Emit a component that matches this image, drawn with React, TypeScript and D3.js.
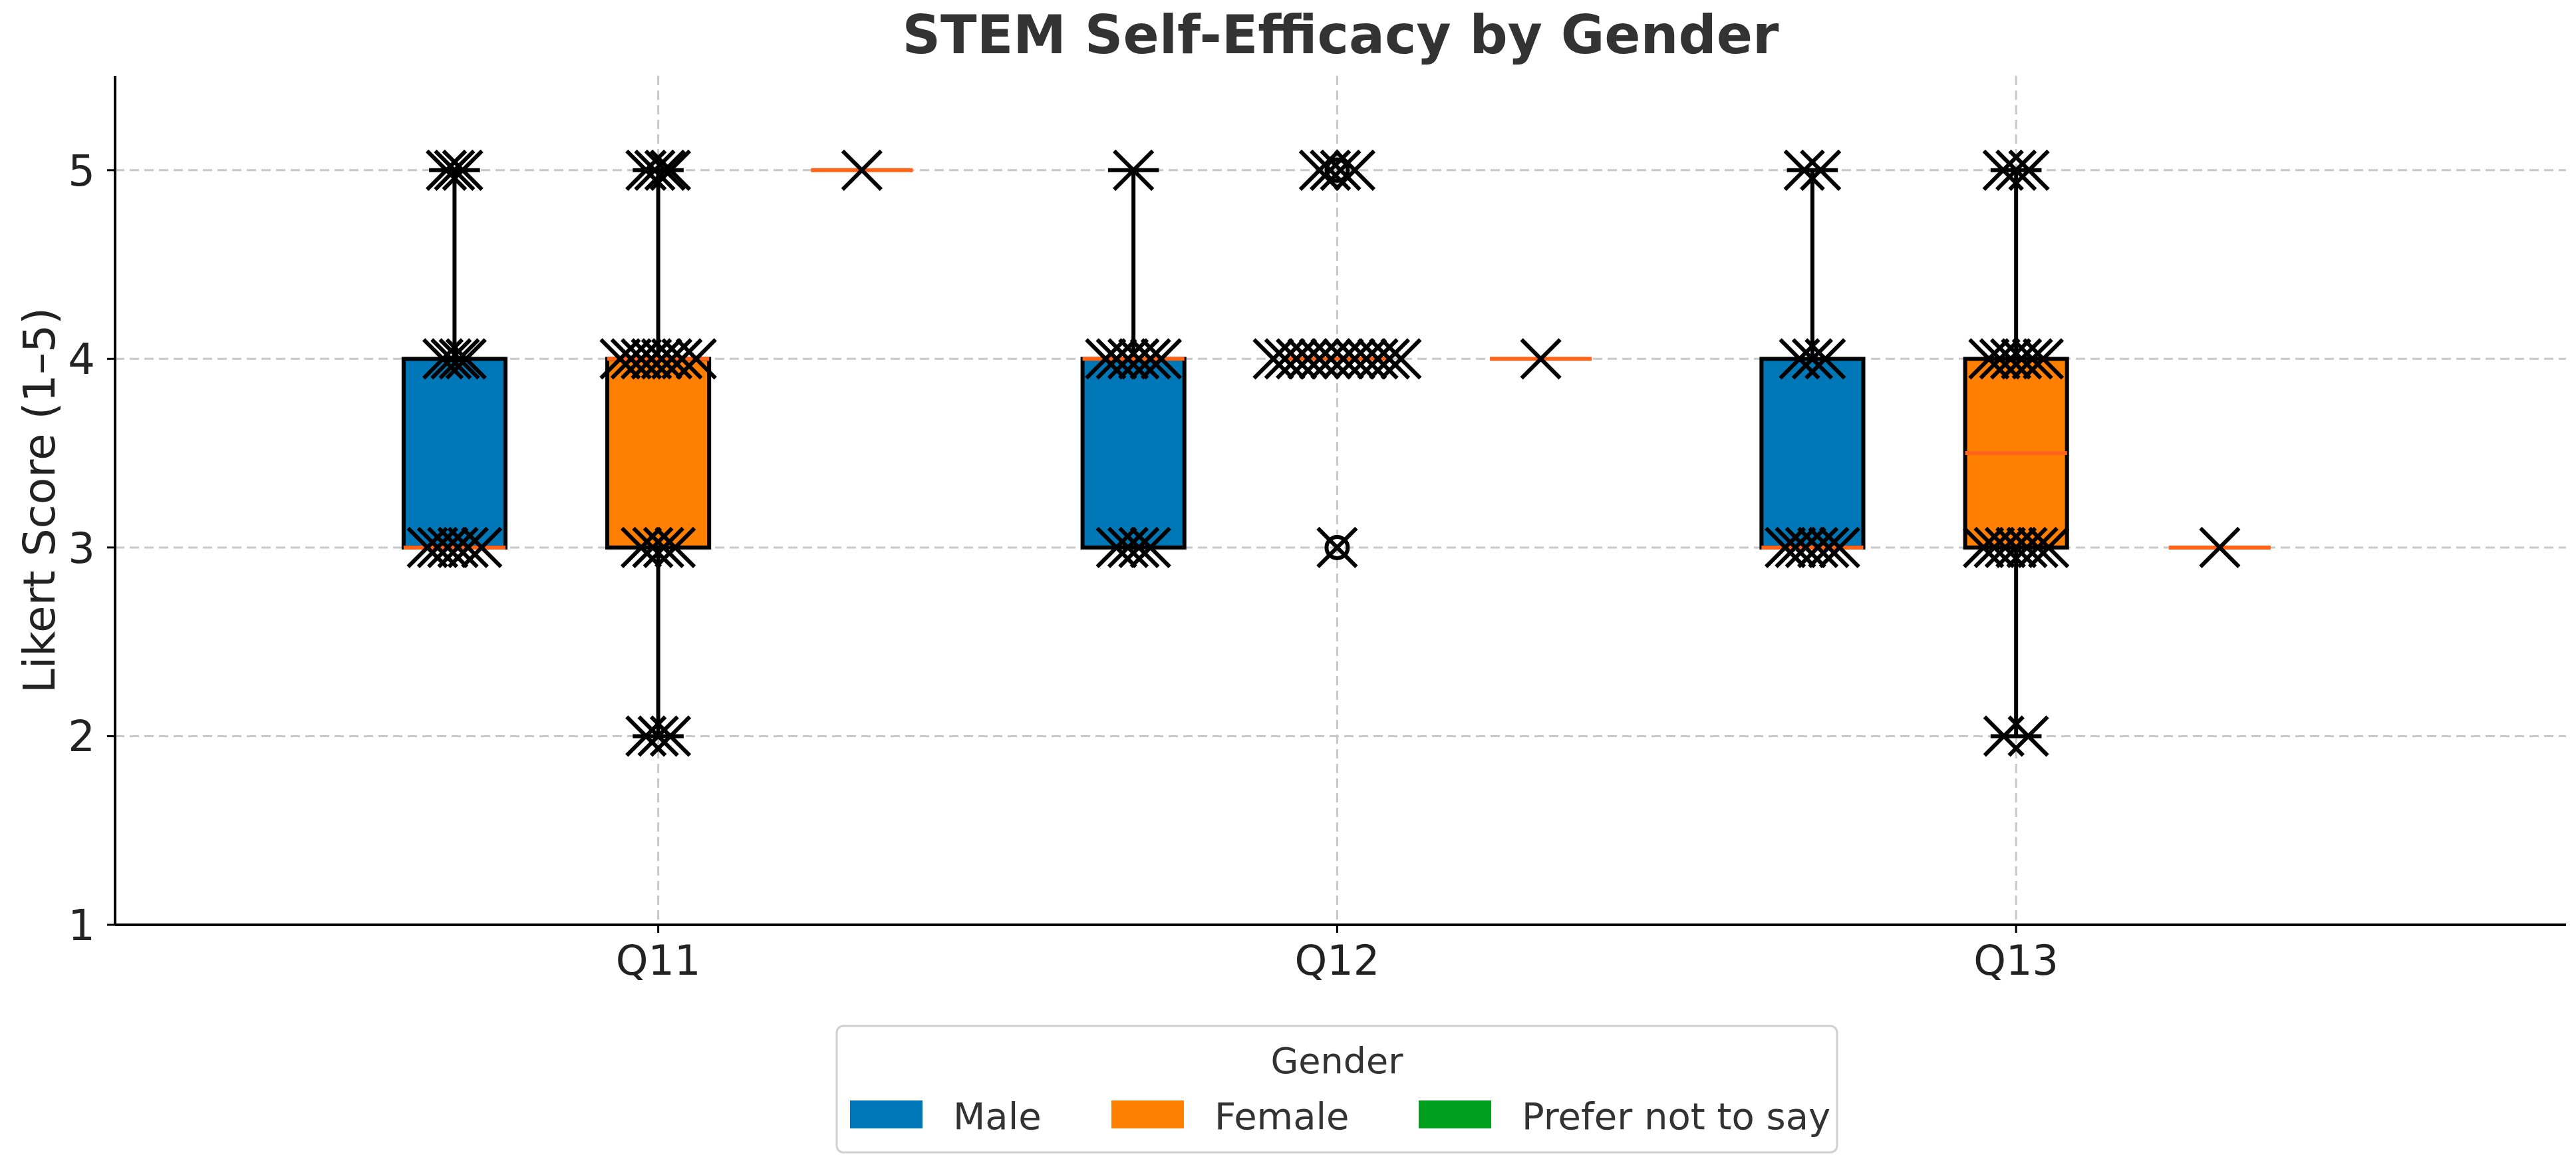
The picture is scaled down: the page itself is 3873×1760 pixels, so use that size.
import React from "react";
import * as d3 from "d3";

const questions = ["Q11", "Q12", "Q13"];
const genders = ["Male", "Female", "Prefer not to say"];
const colors = ["#0077b6", "#ff7f00", "#00a01e"];
const medianColor = "#ff6419";
const yTicks = [1, 2, 3, 4, 5];

// box stats per question x gender: [whiskerLow, q1, median, q3, whiskerHigh]
const q11Stats = [[3, 3, 3, 4, 5], [2, 3, 4, 4, 5], [5, 5, 5, 5, 5]];
const q12Stats = [[3, 3, 4, 4, 5], [4, 4, 4, 4, 4], [4, 4, 4, 4, 4]];
const q13Stats = [[3, 3, 3, 4, 5], [2, 3, 3.5, 4, 5], [3, 3, 3, 3, 3]];
const stats = [q11Stats, q12Stats, q13Stats];

// jittered raw responses: [value, horizontal offset (x units)]
const q11Points = [
  [[5, -0.012], [5, 0], [5, 0.012], [4, -0.017], [4, -0.005], [4, 0.007], [4, 0.017], [3, -0.04], [3, -0.025], [3, -0.01], [3, 0.005], [3, 0.02], [3, 0.04]],
  [[5, -0.018], [5, -0.005], [5, 0.01], [5, 0.018], [4, -0.056], [4, -0.04], [4, -0.025], [4, -0.01], [4, 0.005], [4, 0.02], [4, 0.035], [4, 0.056], [3, -0.025], [3, -0.008], [3, 0.008], [3, 0.025], [2, -0.018], [2, 0], [2, 0.018]],
  [[5, 0]],
];
const q12Points = [
  [[5, 0], [4, -0.041], [4, -0.025], [4, -0.008], [4, 0.008], [4, 0.025], [4, 0.041], [3, -0.025], [3, -0.008], [3, 0.008], [3, 0.025]],
  [[5, -0.026], [5, -0.01], [5, 0.005], [5, 0.026], [4, -0.094], [4, -0.077], [4, -0.06], [4, -0.043], [4, -0.026], [4, -0.009], [4, 0.009], [4, 0.026], [4, 0.043], [4, 0.06], [4, 0.077], [4, 0.094], [3, 0]],
  [[4, 0]],
];
const q13Points = [
  [[5, -0.012], [5, 0.012], [4, -0.019], [4, 0], [4, 0.019], [3, -0.04], [3, -0.025], [3, -0.01], [3, 0.008], [3, 0.024], [3, 0.04]],
  [[5, -0.019], [5, 0], [5, 0.019], [4, -0.04], [4, -0.024], [4, -0.008], [4, 0.008], [4, 0.024], [4, 0.04], [3, -0.048], [3, -0.032], [3, -0.016], [3, 0], [3, 0.016], [3, 0.032], [3, 0.048], [2, -0.018], [2, 0.018]],
  [[3, 0]],
];
const points = [q11Points, q12Points, q13Points];
// outliers drawn as open circles
const fliers = [[], [[1, 5], [1, 3]], []];

const W = 3873, H = 1760;
const X0 = 173, X1 = 3858, YB = 1390, YT = 114;
const x = d3.scaleLinear().domain([0.2, 3.81]).range([X0, X1]);
const y = d3.scaleLinear().domain([1, 5.5]).range([YB, YT]);
const offsets = [-0.3, 0, 0.3];
const boxW = 0.15;
const capW = 0.075;
const font = "DejaVu Sans, sans-serif";
const LW = 6;

function XMark({ cx, cy }: { cx: number; cy: number }) {
  const s = 29;
  return (
    <g stroke="#000" strokeWidth={LW}>
      <line x1={cx - s} y1={cy - s} x2={cx + s} y2={cy + s} />
      <line x1={cx - s} y1={cy + s} x2={cx + s} y2={cy - s} />
    </g>
  );
}

export default function App() {
  return (
    <svg width={W} height={H} style={{ position: "absolute", left: 0, top: 0, background: "#fff" }} fontFamily={font}>
      <rect width={W} height={H} fill="#fff" />
      <text x={(X0 + X1) / 2} y={80} textAnchor="middle" fontSize={80} fontWeight="bold" fill="#333">STEM Self-Efficacy by Gender</text>
      {yTicks.map((t) => (
        <line key={"gy" + t} x1={X0} x2={X1} y1={y(t)} y2={y(t)} stroke="#c8c8c8" strokeWidth={3} strokeDasharray="14 8" />
      ))}
      {questions.map((q, i) => (
        <line key={"gx" + q} x1={x(i + 1)} x2={x(i + 1)} y1={YT} y2={YB} stroke="#c8c8c8" strokeWidth={3} strokeDasharray="14 8" />
      ))}
      {stats.map((qs, qi) =>
        qs.map((s, gi) => {
          const c = qi + 1 + offsets[gi];
          const [lo, q1, med, q3, hi] = s;
          const degenerate = q1 === q3;
          return (
            <g key={qi + "-" + gi}>
              {!degenerate && (
                <>
                  {hi > q3 && <line x1={x(c)} x2={x(c)} y1={y(q3)} y2={y(hi)} stroke="#000" strokeWidth={LW} />}
                  {lo < q1 && <line x1={x(c)} x2={x(c)} y1={y(q1)} y2={y(lo)} stroke="#000" strokeWidth={LW} />}
                  {hi > q3 && <line x1={x(c - capW / 2)} x2={x(c + capW / 2)} y1={y(hi)} y2={y(hi)} stroke="#000" strokeWidth={LW} />}
                  {lo < q1 && <line x1={x(c - capW / 2)} x2={x(c + capW / 2)} y1={y(lo)} y2={y(lo)} stroke="#000" strokeWidth={LW} />}
                  <rect x={x(c - boxW / 2)} width={x(c + boxW / 2) - x(c - boxW / 2)} y={y(q3)} height={y(q1) - y(q3)} fill={colors[gi]} stroke="#000" strokeWidth={LW} />
                </>
              )}
              <line x1={x(c - boxW / 2)} x2={x(c + boxW / 2)} y1={y(med)} y2={y(med)} stroke={medianColor} strokeWidth={LW} />
            </g>
          );
        })
      )}
      {fliers.map((fl, qi) =>
        fl.map(([gi, v], k) => (
          <circle key={"f" + qi + k} cx={x(qi + 1 + offsets[gi])} cy={y(v)} r={16} fill="none" stroke="#000" strokeWidth={LW} />
        ))
      )}
      {points.map((qp, qi) =>
        qp.map((gp, gi) =>
          gp.map(([v, o], k) => <XMark key={qi + "-" + gi + "-" + k} cx={x(qi + 1 + offsets[gi] + o)} cy={y(v)} />)
        )
      )}
      <line x1={X0} x2={X0} y1={YT} y2={YB} stroke="#000" strokeWidth={4} />
      <line x1={X0} x2={X1} y1={YB} y2={YB} stroke="#000" strokeWidth={4} />
      {yTicks.map((t) => (
        <g key={"yt" + t}>
          <line x1={161} x2={X0} y1={y(t)} y2={y(t)} stroke="#000" strokeWidth={3} />
          <text x={143} y={y(t)} dy="0.36em" textAnchor="end" fontSize={64} fill="#222">{t}</text>
        </g>
      ))}
      {questions.map((q, i) => (
        <g key={"xt" + q}>
          <line x1={x(i + 1)} x2={x(i + 1)} y1={YB} y2={YB + 12} stroke="#000" strokeWidth={3} />
          <text x={x(i + 1)} y={YB + 75} textAnchor="middle" fontSize={62} fill="#222">{q}</text>
        </g>
      ))}
      <text transform={`translate(58, ${(YT + YB) / 2}) rotate(-90)`} textAnchor="middle" dy="0.36em" fontSize={66} fill="#222">Likert Score (1–5)</text>
      <rect x={1258} y={1542} width={1504} height={190} rx={10} fill="#fff" stroke="#d0d0d0" strokeWidth={3} />
      <text x={2010} y={1594} dy="0.36em" textAnchor="middle" fontSize={54} fill="#333">Gender</text>
      {genders.map((g, i) => {
        const sx = [1278, 1671, 2133][i];
        return (
          <g key={g}>
            <rect x={sx} y={1654} width={109} height={42} fill={colors[i]} />
            <text x={sx + 155} y={1677} dy="0.36em" fontSize={56} fill="#333">{g}</text>
          </g>
        );
      })}
    </svg>
  );
}
